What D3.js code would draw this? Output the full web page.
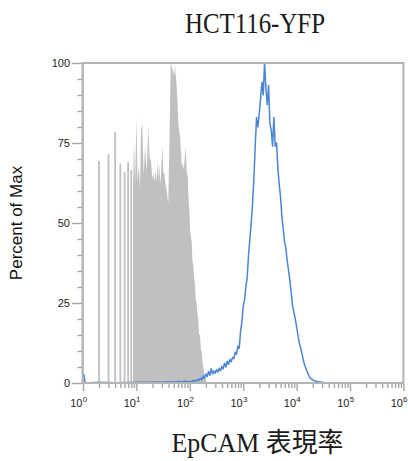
<!doctype html>
<html>
<head>
<meta charset="utf-8">
<title>HCT116-YFP EpCAM</title>
<script src="https://d3js.org/d3.v7.min.js"></script>
<style>
  body { margin: 0; background: #fff; }
  .tick-label { font-family: "Liberation Sans", Arial, sans-serif; font-size: 11px; fill: #1e1e1e; }
</style>
</head>
<body>
<div id="chart"></div>
<script>

// ---- data (percent of max) ----
// x positions are log10 of the fluorescence channel

// isolated integer channels at the low end of the isotype histogram
var graySpikeVal = [1, 2, 3, 4, 5, 6, 7, 8];
var graySpikePct = [100, 69.4, 71.5, 78.5, 68.5, 66, 69, 66.5];

// continuous part of the isotype (grey) histogram
var grayLog = [0.936, 0.955, 0.974, 1.002, 1.021, 1.049, 1.067, 1.086, 1.110, 1.137,
  1.161, 1.193, 1.223, 1.249, 1.273, 1.296, 1.316, 1.339, 1.361, 1.380,
  1.399, 1.414, 1.429, 1.446, 1.461, 1.485, 1.504, 1.522, 1.545, 1.567,
  1.582, 1.597, 1.624, 1.642, 1.661, 1.680, 1.704, 1.723, 1.742, 1.755,
  1.770, 1.785, 1.801, 1.816, 1.835, 1.848, 1.867, 1.886, 1.904, 1.923,
  1.942, 1.961, 1.976, 1.991, 2.009, 2.036, 2.050, 2.066, 2.080, 2.097,
  2.110, 2.129, 2.145, 2.159, 2.175, 2.191, 2.210, 2.223, 2.240, 2.253,
  2.270, 2.285, 2.300, 2.316, 2.346];
var grayPct = [61, 75.6, 62, 82.7, 63, 68, 60, 79, 81, 65,
  74, 66, 80, 70, 69.7, 64, 65.5, 63, 66.5, 63,
  69.7, 64, 68.5, 62, 65, 74.4, 66, 65.5, 62, 60.3,
  58, 56.2, 80, 99.9, 99, 97.8, 96, 99.4, 95, 92.6,
  88, 81.1, 79, 77, 72, 67.6, 69, 66.6, 70, 73.9,
  66, 64.5, 58, 54, 47, 44, 38, 37, 33, 31,
  26, 25, 21, 20, 15, 15, 10, 10, 6, 5,
  3, 2, 1, 0.4, 0];

// EpCAM stained (blue) histogram
var blueLog = [0, 0.02, 0.04, 0.3, 0.6, 1.0, 1.2, 1.4, 1.5, 1.6, 1.7, 1.8, 1.85, 1.9, 1.95,
  2.000, 2.025, 2.050, 2.075, 2.100, 2.125, 2.150, 2.175, 2.200, 2.225,
  2.250, 2.275, 2.300, 2.325, 2.350, 2.375, 2.400, 2.425, 2.450, 2.475,
  2.500, 2.525, 2.550, 2.575, 2.600, 2.625, 2.650, 2.675, 2.700, 2.725,
  2.750, 2.775, 2.800, 2.825, 2.850, 2.875, 2.900, 2.925, 2.950, 2.975,
  3.000, 3.025, 3.050, 3.075, 3.100, 3.125, 3.150, 3.175, 3.200, 3.225,
  3.250, 3.275, 3.300, 3.325, 3.350, 3.375, 3.400, 3.425, 3.450, 3.475,
  3.500, 3.525, 3.550, 3.575, 3.600, 3.625, 3.650, 3.675, 3.700, 3.725,
  3.750, 3.775, 3.800, 3.825, 3.850, 3.875, 3.900, 3.925, 3.950, 3.975,
  4.000, 4.025, 4.050, 4.075, 4.100, 4.125, 4.150, 4.175, 4.200, 4.225,
  4.250, 4.275, 4.300, 4.325, 4.350, 4.375, 4.400, 4.425, 4.450, 4.475,
  4.500, 4.525, 4.550, 4.600, 4.800, 5.500, 6.000];
var bluePct = [2.5, 2.5, 0, 0.2, 0.1, 0.2, 0.2, 0.3, 0.2, 0.4, 0.3, 0.5, 0.3, 0.6, 0.4,
  0.5, 0.3, 0.8, 0.4, 0.9, 0.6, 1.2, 0.8, 1.5, 1.0,
  2.2, 1.4, 2.8, 2.0, 3.6, 2.4, 4.5, 2.8, 3.8, 3.0,
  4.2, 3.4, 4.6, 3.8, 5.2, 4.4, 6.2, 5.0, 6.8, 5.8,
  7.4, 6.6, 8.0, 7.6, 9.6, 9.0, 11.5, 10.8, 16, 19,
  24, 26, 30, 33, 40, 45, 50, 56, 64, 74,
  83, 80, 84, 89, 94, 90, 100, 92, 87, 93,
  81, 79, 74, 83, 74, 75, 67, 62, 58, 52,
  48, 44, 42, 38, 35, 32, 28, 24, 22, 20,
  17.6, 15, 12.5, 11, 9.3, 7.2, 5.6, 4.5, 3.5, 2.5,
  1.6, 1.3, 1.0, 0.8, 0.6, 0.5, 0.4, 0.3, 0.3, 0.2,
  0.2, 0.1, 0.1, 0, 0, 0, 0];

var yMajor = [0, 25, 50, 75, 100];
var decades = [0, 1, 2, 3, 4, 5, 6];

var titleText = "HCT116-YFP";
var xLabelText = "EpCAM 表現率";
var yLabelText = "Percent of Max";

// ---- layout ----
var W = 408, H = 461;
var plotL = 83, plotR = 403.4, plotT = 63, plotB = 383;

var x = d3.scaleLog().domain([1, 1e6]).range([plotL, plotR]);
var y = d3.scaleLinear().domain([0, 100]).range([plotB, plotT]);

var svg = d3.select("#chart").append("svg")
  .attr("width", W)
  .attr("height", H);

// grey filled histogram
var grayPts = grayLog.map(function(l, i) { return [Math.pow(10, l), grayPct[i]]; });
svg.append("path")
  .datum(grayPts)
  .attr("fill", "#c0c0c0")
  .attr("d", d3.area()
    .x(function(d) { return x(d[0]); })
    .y0(y(0))
    .y1(function(d) { return y(d[1]); }));

svg.selectAll(".spike")
  .data(graySpikeVal)
  .enter().append("rect")
  .attr("class", "spike")
  .attr("fill", "#c0c0c0")
  .attr("x", function(d) { return x(d) - 0.9; })
  .attr("width", 1.8)
  .attr("y", function(d, i) { return y(graySpikePct[i]); })
  .attr("height", function(d, i) { return y(0) - y(graySpikePct[i]); });

// blue line histogram
var bluePts = blueLog.map(function(l, i) { return [Math.pow(10, l), bluePct[i]]; });
svg.append("path")
  .datum(bluePts)
  .attr("fill", "none")
  .attr("stroke", "#4a86d4")
  .attr("stroke-width", 1.5)
  .attr("stroke-linejoin", "round")
  .attr("d", d3.line()
    .x(function(d) { return x(d[0]); })
    .y(function(d) { return y(d[1]); }));

// frame
svg.append("rect")
  .attr("x", plotL - 0.5)
  .attr("y", plotT)
  .attr("width", plotR - plotL + 0.5)
  .attr("height", plotB - plotT)
  .attr("fill", "none")
  .attr("stroke", "#b4b4b4")
  .attr("stroke-width", 2);

// y axis ticks
var yMinor = d3.range(0, 101, 5).filter(function(v) { return yMajor.indexOf(v) < 0; });
var yMinorAxis = svg.append("g")
  .attr("transform", "translate(" + (plotL - 1) + ",0)")
  .call(d3.axisLeft(y).tickValues(yMinor).tickSize(4.5).tickFormat(""));
var yAxis = svg.append("g")
  .attr("transform", "translate(" + (plotL - 1) + ",0)")
  .call(d3.axisLeft(y).tickValues(yMajor).tickSize(10).tickPadding(2));
yAxis.selectAll("text").attr("class", "tick-label").attr("fill", null);

// x axis ticks
var xMinor = [];
decades.slice(0, -1).forEach(function(e) {
  for (var k = 2; k < 10; k++) xMinor.push(k * Math.pow(10, e));
});
var xMinorAxis = svg.append("g")
  .attr("transform", "translate(0," + (plotB + 1) + ")")
  .call(d3.axisBottom(x).tickValues(xMinor).tickSize(4).tickFormat(""));
var xAxis = svg.append("g")
  .attr("transform", "translate(0," + (plotB + 1) + ")")
  .call(d3.axisBottom(x).tickValues(decades.map(function(e) { return Math.pow(10, e); }))
    .tickSize(7).tickFormat(""));

[yMinorAxis, yAxis, xMinorAxis, xAxis].forEach(function(g) {
  g.select(".domain").remove();
  g.selectAll("line").attr("stroke", "#a6a6a6").attr("stroke-width", 1.4);
});

// decade labels 10^n
var lab = svg.selectAll(".xlab")
  .data(decades)
  .enter().append("text")
  .attr("class", "tick-label")
  .attr("y", 407.3);
lab.append("tspan")
  .attr("x", function(d) { return x(Math.pow(10, d)) - 0.5; })
  .attr("text-anchor", "end")
  .text("10");
lab.append("tspan")
  .attr("x", function(d) { return x(Math.pow(10, d)) - 0.3; })
  .attr("dy", -5.2)
  .style("font-size", "8px")
  .text(function(d) { return d; });

// titles
svg.append("text")
  .attr("x", 255)
  .attr("y", 32.7)
  .attr("text-anchor", "middle")
  .attr("textLength", 140)
  .attr("lengthAdjust", "spacingAndGlyphs")
  .style("font-family", "'Liberation Serif', 'Times New Roman', serif")
  .style("font-size", "29px")
  .style("fill", "#1a1a1a")
  .text(titleText);

svg.append("text")
  .attr("x", 257.5)
  .attr("y", 451.7)
  .attr("text-anchor", "middle")
  .attr("textLength", 172)
  .attr("lengthAdjust", "spacingAndGlyphs")
  .style("font-family", "'Liberation Serif', 'Noto Sans CJK TC', serif")
  .style("font-size", "27px")
  .style("fill", "#1a1a1a")
  .text(xLabelText);

svg.append("text")
  .attr("transform", "translate(21.5,223) rotate(-90)")
  .attr("text-anchor", "middle")
  .style("font-family", "'Liberation Sans', Arial, sans-serif")
  .style("font-size", "17px")
  .style("fill", "#111")
  .text(yLabelText);

</script>
</body>
</html>
